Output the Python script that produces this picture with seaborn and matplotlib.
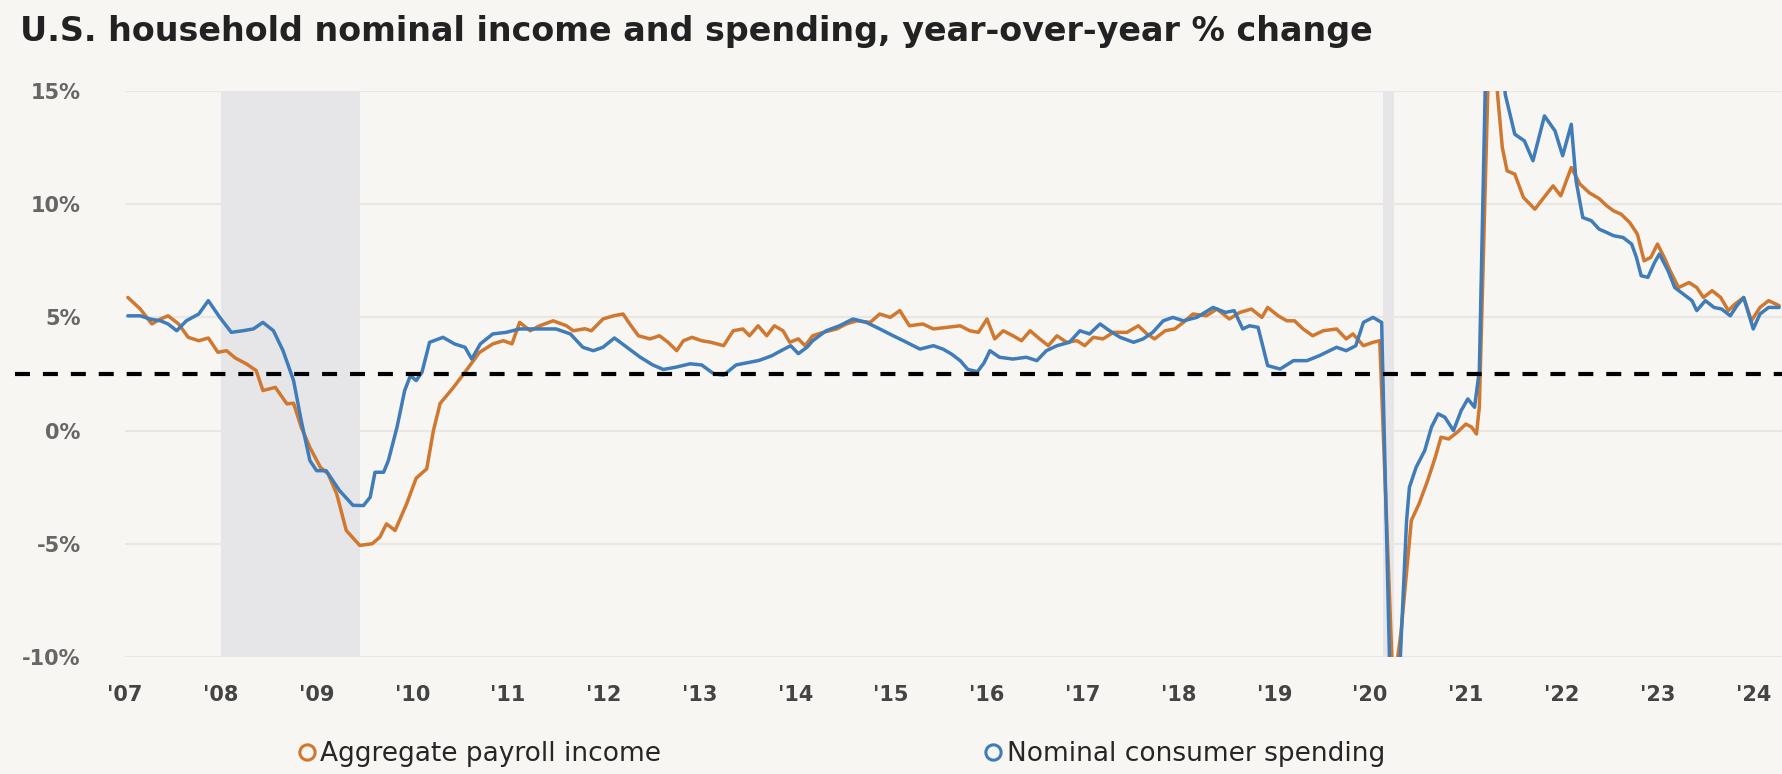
import numpy as np
import pandas as pd
import matplotlib
matplotlib.use("Agg")
import matplotlib.pyplot as plt
import seaborn as sns
from matplotlib.lines import Line2D

sns.set_theme(style="white")
plt.rcParams['font.family'] = ['DejaVu Sans']

# Aggregate payroll income, yoy % change (decimal year, value)
payroll_x = [2007.03, 2007.16, 2007.28, 2007.37, 2007.45, 2007.56, 2007.66, 2007.77, 2007.87, 2007.97,
             2008.06, 2008.15, 2008.27, 2008.37, 2008.44, 2008.57, 2008.69, 2008.76, 2008.84, 2008.93,
             2009.04, 2009.12, 2009.21, 2009.31, 2009.45, 2009.58, 2009.66, 2009.73, 2009.82, 2009.94,
             2010.04, 2010.15, 2010.22, 2010.29, 2010.43, 2010.57, 2010.70, 2010.84, 2010.95, 2011.04,
             2011.12, 2011.23, 2011.33, 2011.47, 2011.61, 2011.68, 2011.80, 2011.87, 2011.99, 2012.10,
             2012.20, 2012.27, 2012.36, 2012.48, 2012.58, 2012.67, 2012.76, 2012.83, 2012.92, 2013.02,
             2013.12, 2013.25, 2013.35, 2013.45, 2013.52, 2013.61, 2013.70, 2013.78, 2013.87, 2013.94,
             2014.03, 2014.10, 2014.18, 2014.29, 2014.43, 2014.53, 2014.64, 2014.78, 2014.88, 2014.99,
             2015.09, 2015.19, 2015.33, 2015.44, 2015.58, 2015.72, 2015.82, 2015.91, 2016.00, 2016.08,
             2016.17, 2016.27, 2016.36, 2016.45, 2016.55, 2016.64, 2016.73, 2016.83, 2016.94, 2017.02,
             2017.11, 2017.21, 2017.32, 2017.46, 2017.58, 2017.67, 2017.75, 2017.86, 2017.96, 2018.05,
             2018.15, 2018.29, 2018.40, 2018.53, 2018.64, 2018.76, 2018.87, 2018.93, 2019.04, 2019.13,
             2019.21, 2019.30, 2019.40, 2019.51, 2019.65, 2019.75, 2019.82, 2019.93, 2020.03, 2020.10,
             2020.24, 2020.32, 2020.43, 2020.51, 2020.60, 2020.68, 2020.74, 2020.82, 2020.91, 2021.00,
             2021.06, 2021.11, 2021.14, 2021.26, 2021.33, 2021.38, 2021.43, 2021.51, 2021.60, 2021.72,
             2021.80, 2021.91, 2021.99, 2022.10, 2022.19, 2022.29, 2022.39, 2022.47, 2022.54, 2022.62,
             2022.71, 2022.79, 2022.86, 2022.93, 2023.00, 2023.07, 2023.14, 2023.22, 2023.33, 2023.41,
             2023.48, 2023.57, 2023.66, 2023.74, 2023.81, 2023.90, 2023.98, 2024.07, 2024.16, 2024.27]
payroll_y = [5.88, 5.37, 4.71, 4.93, 5.07, 4.71, 4.12, 3.97, 4.09, 3.46,
             3.53, 3.21, 2.94, 2.65, 1.77, 1.91, 1.18, 1.21, 0.15, -0.74,
             -1.62, -1.91, -2.79, -4.41, -5.07, -5.00, -4.71, -4.12, -4.41, -3.24,
             -2.10, -1.69, 0.00, 1.20, 1.91, 2.70, 3.45, 3.83, 3.97, 3.83,
             4.78, 4.41, 4.63, 4.85, 4.63, 4.41, 4.50, 4.41, 4.93, 5.07,
             5.15, 4.71, 4.19, 4.05, 4.19, 3.90, 3.53, 3.97, 4.12, 3.97,
             3.90, 3.75, 4.41, 4.49, 4.19, 4.63, 4.19, 4.63, 4.41, 3.90,
             4.05, 3.75, 4.19, 4.34, 4.49, 4.71, 4.85, 4.78, 5.15, 5.00,
             5.30, 4.63, 4.71, 4.49, 4.56, 4.63, 4.41, 4.34, 4.93, 4.05,
             4.41, 4.19, 3.97, 4.41, 4.05, 3.75, 4.19, 3.90, 3.97, 3.75,
             4.12, 4.05, 4.34, 4.34, 4.63, 4.27, 4.05, 4.41, 4.49, 4.78,
             5.15, 5.07, 5.37, 4.93, 5.22, 5.37, 5.00, 5.44, 5.07, 4.85,
             4.85, 4.49, 4.19, 4.41, 4.49, 4.05, 4.27, 3.75, 3.90, 3.97,
             -11.5, -9.0, -3.97, -3.24, -2.21, -1.18, -0.29, -0.37, -0.07, 0.29,
             0.15, -0.15, 1.03, 20.0, 14.86, 12.50, 11.47, 11.33, 10.30, 9.78,
             10.22, 10.81, 10.37, 11.62, 10.89, 10.50, 10.25, 9.93, 9.71, 9.56,
             9.19, 8.68, 7.50, 7.65, 8.24, 7.65, 6.99, 6.32, 6.54, 6.32,
             5.88, 6.18, 5.88, 5.30, 5.59, 5.88, 4.85, 5.44, 5.74, 5.52]

# Nominal consumer spending, yoy % change
spending_x = [2007.03, 2007.16, 2007.26, 2007.37, 2007.45, 2007.54, 2007.64, 2007.77, 2007.87, 2007.99,
              2008.11, 2008.23, 2008.34, 2008.44, 2008.55, 2008.65, 2008.76, 2008.84, 2008.93, 2009.00,
              2009.10, 2009.24, 2009.38, 2009.49, 2009.56, 2009.61, 2009.70, 2009.75, 2009.84, 2009.92,
              2009.98, 2010.04, 2010.10, 2010.18, 2010.32, 2010.44, 2010.55, 2010.62, 2010.71, 2010.84,
              2010.98, 2011.12, 2011.30, 2011.50, 2011.65, 2011.78, 2011.89, 2011.99, 2012.11, 2012.24,
              2012.38, 2012.51, 2012.62, 2012.75, 2012.90, 2013.02, 2013.15, 2013.25, 2013.38, 2013.50,
              2013.62, 2013.75, 2013.85, 2013.95, 2014.03, 2014.12, 2014.18, 2014.32, 2014.46, 2014.60,
              2014.74, 2014.88, 2015.02, 2015.16, 2015.30, 2015.44, 2015.54, 2015.63, 2015.72, 2015.80,
              2015.90, 2015.97, 2016.03, 2016.13, 2016.27, 2016.41, 2016.52, 2016.62, 2016.73, 2016.86,
              2016.97, 2017.07, 2017.18, 2017.28, 2017.39, 2017.53, 2017.63, 2017.73, 2017.84, 2017.94,
              2018.05, 2018.19, 2018.36, 2018.49, 2018.58, 2018.67, 2018.74, 2018.83, 2018.93, 2019.06,
              2019.20, 2019.34, 2019.47, 2019.65, 2019.75, 2019.85, 2019.93, 2020.03, 2020.12, 2020.24,
              2020.31, 2020.38, 2020.41, 2020.48, 2020.57, 2020.64, 2020.71, 2020.78, 2020.87, 2020.95,
              2021.02, 2021.09, 2021.14, 2021.27, 2021.41, 2021.51, 2021.61, 2021.70, 2021.82, 2021.93,
              2022.01, 2022.10, 2022.15, 2022.22, 2022.31, 2022.39, 2022.47, 2022.54, 2022.64, 2022.73,
              2022.78, 2022.83, 2022.90, 2022.97, 2023.02, 2023.11, 2023.18, 2023.27, 2023.36, 2023.41,
              2023.50, 2023.59, 2023.67, 2023.76, 2023.83, 2023.90, 2024.00, 2024.07, 2024.16, 2024.27]
spending_y = [5.07, 5.07, 4.93, 4.85, 4.71, 4.41, 4.85, 5.15, 5.74, 5.00,
              4.34, 4.41, 4.49, 4.78, 4.41, 3.53, 2.21, 0.44, -1.32, -1.77,
              -1.77, -2.65, -3.30, -3.31, -2.94, -1.84, -1.84, -1.32, 0.15, 1.77,
              2.43, 2.21, 2.57, 3.90, 4.12, 3.83, 3.68, 3.16, 3.83, 4.27,
              4.34, 4.49, 4.49, 4.49, 4.27, 3.68, 3.53, 3.68, 4.09, 3.68,
              3.24, 2.90, 2.70, 2.80, 2.95, 2.90, 2.50, 2.45, 2.90, 3.00,
              3.10, 3.30, 3.53, 3.75, 3.40, 3.68, 3.97, 4.41, 4.63, 4.93,
              4.78, 4.49, 4.19, 3.90, 3.60, 3.75, 3.60, 3.38, 3.09, 2.70,
              2.60, 3.00, 3.53, 3.24, 3.16, 3.24, 3.09, 3.53, 3.75, 3.90,
              4.41, 4.27, 4.71, 4.41, 4.12, 3.90, 4.05, 4.34, 4.85, 5.00,
              4.85, 5.00, 5.44, 5.22, 5.30, 4.49, 4.63, 4.56, 2.87, 2.72,
              3.09, 3.09, 3.31, 3.68, 3.53, 3.75, 4.78, 5.00, 4.78, -17.0,
              -10.5, -4.0, -2.50, -1.62, -0.88, 0.15, 0.74, 0.59, 0.00, 0.88,
              1.40, 1.03, 2.65, 29.0, 14.86, 13.09, 12.80, 11.92, 13.90, 13.24,
              12.14, 13.53, 11.03, 9.41, 9.27, 8.90, 8.75, 8.61, 8.53, 8.24,
              7.65, 6.84, 6.77, 7.43, 7.80, 7.06, 6.32, 6.03, 5.74, 5.30,
              5.74, 5.44, 5.37, 5.07, 5.52, 5.88, 4.49, 5.15, 5.44, 5.44]

years = list(range(2007, 2025))
year_labels = ["'" + str(y)[2:] for y in years]
y_ticks = [-10, -5, 0, 5, 10, 15]
y_labels = ['-10%', '-5%', '0%', '5%', '10%', '15%']
recessions = [(2008.0, 2009.45), (2020.13, 2020.25)]
threshold = 2.5

title = 'U.S. household nominal income and spending, year-over-year % change'
series_names = ['Aggregate payroll income', 'Nominal consumer spending']

BG = '#F7F6F2'
ORANGE = '#D0782F'
BLUE = '#3F7CB8'

df = pd.concat([
    pd.DataFrame({'date': payroll_x, 'value': payroll_y, 'series': series_names[0]}),
    pd.DataFrame({'date': spending_x, 'value': spending_y, 'series': series_names[1]}),
])

fig = plt.figure(figsize=(17.82, 7.74), dpi=100)
fig.patch.set_facecolor(BG)
W, H = 1782, 774
ax = fig.add_axes([125 / W, 1 - 657 / H, 1657 / W, (657 - 91) / H])
ax.set_facecolor(BG)

for a, b in recessions:
    ax.axvspan(a, b, color='#E6E6E9', lw=0, zorder=0)

sns.lineplot(data=df, x='date', y='value', hue='series',
             palette={series_names[0]: ORANGE, series_names[1]: BLUE},
             linewidth=2.5, legend=False, ax=ax, zorder=3)

# dashed reference line runs past the axes to the left edge
ax.axhline(threshold, xmin=(15 - 125) / 1657, xmax=1, color='black', lw=3,
           dashes=(3.6, 3.1), clip_on=False, zorder=5)

ax.set_xlim(2007.0, 2024.30)
ax.set_ylim(-10, 15)
ax.set_xticks(years)
ax.set_xticklabels(year_labels)
ax.set_yticks(y_ticks)
ax.set_yticklabels(y_labels)
ax.set_xlabel('')
ax.set_ylabel('')
ax.yaxis.grid(True, color='#E8E7E3', lw=1.6)
ax.xaxis.grid(False)
ax.set_axisbelow(True)
for s in ax.spines.values():
    s.set_visible(False)
ax.tick_params(axis='y', length=0, pad=32, labelsize=15, labelcolor='#666666')
ax.tick_params(axis='x', length=0, pad=20, labelsize=15, labelcolor='#444444')
for t in ax.get_yticklabels() + ax.get_xticklabels():
    t.set_fontweight('bold')

fig.text(20 / W, 1 - 32 / H, title, fontsize=24, fontweight='bold', color='#222222',
         ha='left', va='center')

handles = [Line2D([], [], marker='o', ls='none', mfc='none', mec=c, mew=2.2, ms=11)
           for c in [ORANGE, BLUE]]
fig.legend(handles, series_names, loc='center left', bbox_to_anchor=(283 / W, 20 / H),
           ncol=2, frameon=False, prop={'size': 19},
           handletextpad=0.1, handlelength=0.8, columnspacing=12.2, borderpad=0)

fig.savefig('out.png', dpi=100, facecolor=BG)
